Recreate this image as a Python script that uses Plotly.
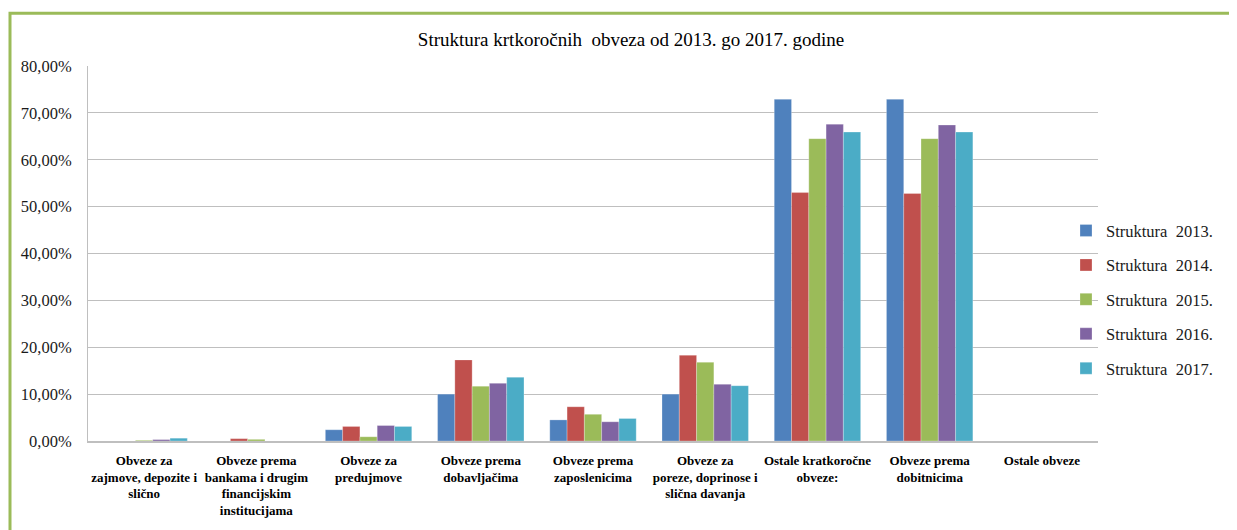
import plotly.graph_objects as go

categories = ["zajmove", "bankama", "predujmove", "dobavljacima", "zaposlenicima",
              "poreze", "ostale_kratkorocne", "dobitnicima", "ostale"]
tick_labels = [
    "Obveze za<br>zajmove, depozite i<br>slično",
    "Obveze prema<br>bankama i drugim<br>financijskim<br>institucijama",
    "Obveze za<br>predujmove",
    "Obveze prema<br>dobavljačima",
    "Obveze prema<br>zaposlenicima",
    "Obveze za<br>poreze, doprinose i<br>slična davanja",
    "Ostale kratkoročne<br>obveze:",
    "Obveze prema<br>dobitnicima",
    "Ostale obveze",
]
series_names = ["Struktura\u00a0\u00a02013.", "Struktura\u00a0\u00a02014.", "Struktura\u00a0\u00a02015.",
                "Struktura\u00a0\u00a02016.", "Struktura\u00a0\u00a02017."]
s2013 = [0.0, 0.0, 2.4, 10.0, 4.5, 10.0, 72.9, 72.9, 0.0]
s2014 = [0.0, 0.5, 3.1, 17.3, 7.3, 18.3, 53.0, 52.8, 0.0]
s2015 = [0.15, 0.35, 0.9, 11.7, 5.7, 16.8, 64.5, 64.5, 0.0]
s2016 = [0.3, 0.0, 3.3, 12.3, 4.1, 12.1, 67.6, 67.4, 0.0]
s2017 = [0.6, 0.0, 3.1, 13.6, 4.8, 11.8, 65.9, 65.9, 0.0]
series_values = [s2013, s2014, s2015, s2016, s2017]
colors = ["#4F81BD", "#C0504D", "#9BBB59", "#8064A2", "#4BACC6"]
y_tick_vals = [0, 10, 20, 30, 40, 50, 60, 70, 80]
y_tick_text = ["0,00%", "10,00%", "20,00%", "30,00%", "40,00%", "50,00%", "60,00%", "70,00%", "80,00%"]

SERIF = "Liberation Serif, DejaVu Serif, serif"

OFF = 8  # page body margin
W, H = 1237 - OFF, 530 - OFF
L = 88 - OFF
T = 66 - OFF
R = W - (1098 - OFF)
B = H - (443 - OFF)
pw, ph = W - L - R, H - T - B

def px_x(p):  # page px -> paper
    return (p - OFF - L) / pw

def px_y(p):
    return (H - B - (p - OFF)) / ph

fig = go.Figure()
for name, vals, col in zip(series_names, series_values, colors):
    fig.add_trace(go.Bar(
        x=categories, y=vals, name=name, legendgroup=name,
        marker=dict(color=col, line=dict(color="rgba(255,255,255,0.5)", width=0.5)),
    ))

fig.add_shape(type="rect", xref="paper", yref="paper",
              x0=px_x(10), x1=px_x(1233), y0=px_y(545), y1=px_y(13),
              line=dict(color="#9BBB59", width=3), fillcolor="rgba(0,0,0,0)", layer="below")

fig.update_layout(
    width=W, height=H,
    margin=dict(l=L, r=R, t=T, b=B),
    paper_bgcolor="white", plot_bgcolor="white",
    font=dict(family=SERIF, color="#1a1a1a", size=16),
    title=dict(text="Struktura krtkoročnih\u00a0\u00a0obveza od 2013. go 2017. godine",
               x=(631 - OFF) / W, xref="container", xanchor="center",
               y=1 - (39 - OFF) / H, yref="container", yanchor="middle",
               font=dict(family=SERIF, size=19, color="#000000")),
    barmode="group", bargap=0.23, bargroupgap=0.0,
    showlegend=True,
    legend=dict(x=px_x(1066), xanchor="left", y=px_y(214), yanchor="top",
                font=dict(family=SERIF, size=16.5, color="#1a1a1a"),
                tracegroupgap=10, bgcolor="rgba(0,0,0,0)", itemwidth=30),
    xaxis=dict(tickmode="array", tickvals=categories, ticktext=tick_labels,
               tickfont=dict(family=SERIF, size=13, color="#000000", weight="bold"),
               showline=True, linecolor="#BFBFBF", linewidth=2, ticks="",
               showgrid=False, ticklabelstandoff=6, tickangle=0),
    yaxis=dict(range=[0, 80], tickmode="array", tickvals=y_tick_vals, ticktext=y_tick_text,
               showgrid=True, gridcolor="#BFBFBF", gridwidth=1,
               showline=True, linecolor="#BFBFBF", linewidth=1, ticks="",
               zeroline=False, ticklabelstandoff=12,
               tickfont=dict(family=SERIF, size=16.5, color="#1a1a1a")),
)

fig.write_html("out.html")
